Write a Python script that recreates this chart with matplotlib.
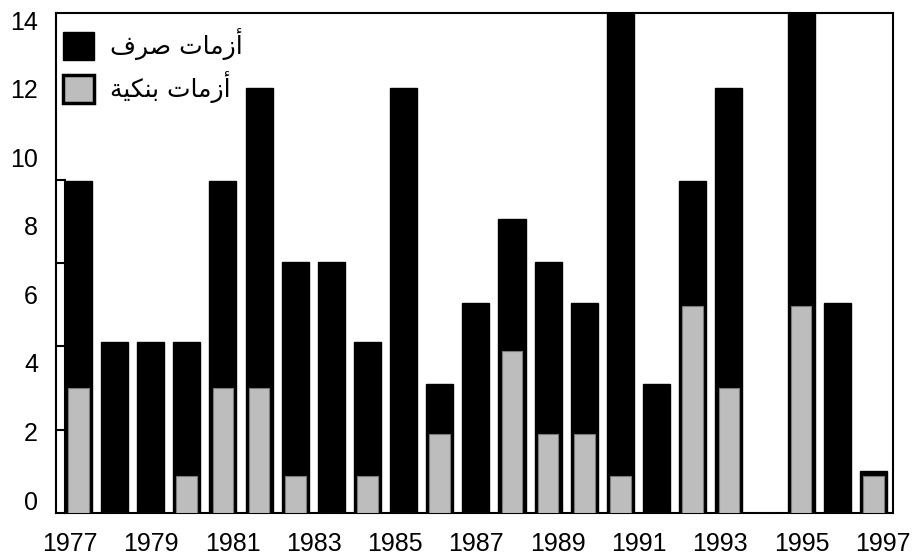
import matplotlib
matplotlib.use("Agg")
import matplotlib.pyplot as plt
import matplotlib.transforms as mtransforms
import numpy as np
from matplotlib.patches import Patch

plt.rcParams["font.family"] = ["Liberation Sans", "DejaVu Sans"]

# one bar per slot, 23 slots across the axis
currency = [7.97, 4.1, 4.1, 4.1, 7.97, 10.2, 6.02, 6.02, 4.1, 10.2, 3.1, 5.05,
            7.05, 6.02, 5.05, 12, 3.1, 7.97, 10.2, 0, 12, 5.05, 1.0]
banking = [3.0, 0, 0, 0.9, 3.0, 3.0, 0.9, 0, 0.9, 0, 1.9, 0,
           3.9, 1.9, 1.9, 0.9, 0, 4.97, 3.0, 0, 4.97, 0, 0.9]

year_labels = ["1977", "1979", "1981", "1983", "1985", "1987",
               "1989", "1991", "1993", "1995", "1997"]
y_labels = ["0", "2", "4", "6", "8", "10", "12", "14"]

label_currency = "\ufed1\ufeae\ufebb \ufe95\ufe8e\ufee3\ufeaf\ufe83"          # أزمات صرف
label_banking = "\ufe94\ufef4\ufedc\ufee8\ufe91 \ufe95\ufe8e\ufee3\ufeaf\ufe83"  # أزمات بنكية

GREY = "#bdbdbd"

fig = plt.figure(figsize=(9.22, 5.56), dpi=100)
ax = fig.add_axes([0.0607, 0.0773, 0.9078, 0.8993])

x = np.arange(len(currency))
ax.bar(x, currency, width=0.75, color="black", edgecolor="black", linewidth=1.0, zorder=2)
ax.bar(x, banking, width=0.57, color=GREY, edgecolor="#7a7a7a", linewidth=0.8, zorder=3)

ax.set_xlim(-0.62, 22.54)
ax.set_ylim(0, 12)

ax.set_xticks(np.linspace(-0.235, 22.26, len(year_labels)))
ax.set_xticklabels(year_labels)
ax.set_yticks(np.linspace(0.31, 11.83, len(y_labels)))
ax.set_yticklabels(y_labels)
ax.tick_params(axis="both", which="major", length=0, labelsize=18)
ax.tick_params(axis="x", pad=14)
ax.tick_params(axis="y", pad=13)

# inward tick marks on the left edge
ax.set_yticks([2, 4, 6, 8], minor=True)
ax.tick_params(axis="y", which="minor", direction="in", length=6.5, width=1.5, left=True)
ax.tick_params(axis="x", which="minor", bottom=False)
strip = mtransforms.blended_transform_factory(ax.transAxes, ax.transData) + \
    mtransforms.ScaledTranslation(9 / 100, 0, fig.dpi_scale_trans)
strip_top = 8
ax.plot([0, 0], [0, strip_top], color="black", lw=1.5, transform=strip, clip_on=False, zorder=4)

for s in ax.spines.values():
    s.set_linewidth(1.5)
    s.set_color("black")

handles = [Patch(facecolor="black", edgecolor="black"),
           Patch(facecolor=GREY, edgecolor="black", linewidth=2.5)]
ax.legend(handles, [label_currency, label_banking], loc="upper left",
          bbox_to_anchor=(0.0084, 0.97), frameon=False,
          prop={"family": ["DejaVu Sans"], "size": 18},
          handlelength=1.25, handleheight=1.35, handletextpad=0.62,
          labelspacing=0.45, borderaxespad=0, borderpad=0)

fig.savefig("out.png", dpi=100)
